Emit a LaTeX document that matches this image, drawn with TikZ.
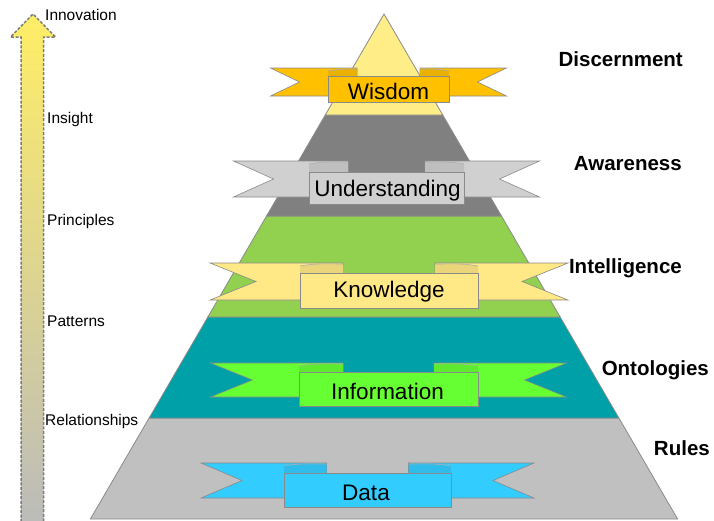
\documentclass[tikz,border=0pt]{standalone}
\usepackage{fontspec}
\setmainfont{Liberation Sans}
\usetikzlibrary{calc}

% layer fills
\definecolor{tipyellow}{HTML}{FFEE88}
\definecolor{midgray}{HTML}{808080}
\definecolor{leafgreen}{HTML}{92D050}
\definecolor{deepteal}{HTML}{00A0A8}
\definecolor{palegray}{HTML}{C0C0C0}
\definecolor{edgegray}{HTML}{8A8A8A}
% ribbon fills
\definecolor{rbgold}{HTML}{FFC000}
\definecolor{rbsilver}{HTML}{D0D0D0}
\definecolor{rbcream}{HTML}{FFE886}
\definecolor{rblime}{HTML}{66FF33}
\definecolor{rbsky}{HTML}{33CCFF}
% side arrow gradient
\definecolor{arrowtop}{HTML}{FFEE66}
\definecolor{arrowbot}{HTML}{BBBBBB}

% ribbon geometry keys
\pgfkeys{/rb/.is family,
  /rb/cx/.store in=\rbcx, /rb/cy/.store in=\rbcy,
  /rb/rw/.store in=\rbrw, /rb/rh/.store in=\rbrh,
  /rb/ow/.store in=\rbow, /rb/ty/.store in=\rbty,
  /rb/th/.store in=\rbth, /rb/nd/.store in=\rbnd,
  /rb/fw/.store in=\rbfw, /rb/tx/.store in=\rbtx,
  /rb/tb/.store in=\rbtb, /rb/col/.store in=\rbcol}

% #1 geometry keys, #2 node name, #3 label
\newcommand\ribbonbanner[3]{%
  \pgfkeys{/rb/.cd,#1}%
  \pgfmathsetmacro\rbL{\rbcx-\rbow}%
  \pgfmathsetmacro\rbR{\rbcx+\rbow}%
  \pgfmathsetmacro\rbLn{\rbcx-\rbow+\rbnd}%
  \pgfmathsetmacro\rbRn{\rbcx+\rbow-\rbnd}%
  \pgfmathsetmacro\rbLf{\rbcx-\rbfw}%
  \pgfmathsetmacro\rbRf{\rbcx+\rbfw}%
  \pgfmathsetmacro\rbT{\rbty-\rbth}%
  \pgfmathsetmacro\rbB{\rbty+\rbth}%
  \pgfmathsetmacro\rbrL{\rbcx-\rbrw}%
  \pgfmathsetmacro\rbrR{\rbcx+\rbrw}%
  \pgfmathsetmacro\rbrT{\rbcy-\rbrh}%
  \pgfmathsetmacro\rbrB{\rbcy+\rbrh}%
  \pgfmathsetmacro\rbFt{\rbT+3}%
  % swallow-tail ends
  \filldraw[ribbonedge, fill=\rbcol] (\rbL,\rbT) -- (\rbLf,\rbT) -- (\rbLf,\rbB)
     -- (\rbL,\rbB) -- (\rbLn,\rbty) -- cycle;
  \filldraw[ribbonedge, fill=\rbcol] (\rbR,\rbT) -- (\rbRf,\rbT) -- (\rbRf,\rbB)
     -- (\rbR,\rbB) -- (\rbRn,\rbty) -- cycle;
  % folds where the band turns under
  \fill[\rbcol!92!black] (\rbrL,\rbrT) -- (\rbrL,\rbFt) to[out=10,in=180] (\rbLf,\rbT+1)
     -- (\rbLf,\rbrT) -- cycle;
  \fill[\rbcol!92!black] (\rbrR,\rbrT) -- (\rbrR,\rbFt) to[out=170,in=0] (\rbRf,\rbT+1)
     -- (\rbRf,\rbrT) -- cycle;
  \draw[ribbonedge, draw=edgegray!70] (\rbrL,\rbFt) to[out=10,in=180] (\rbLf,\rbT+1);
  \draw[ribbonedge, draw=edgegray!70] (\rbrR,\rbFt) to[out=170,in=0] (\rbRf,\rbT+1);
  % front band
  \filldraw[ribbonedge, fill=\rbcol] (\rbrL,\rbrT) rectangle (\rbrR,\rbrB);
  \node[bandtext] (#2) at (\rbtx,\rbtb) {#3};
}

\tikzset{
  layer/.style={draw=edgegray, line width=0.8pt},
  ribbonedge/.style={draw=edgegray, line width=0.6pt},
  bandtext/.style={anchor=base, inner sep=0pt, font=\fontsize{22.5}{26}\selectfont},
  levellabel/.style={anchor=base east, inner sep=0pt, font=\bfseries\fontsize{20.5}{24}\selectfont},
  scalelabel/.style={anchor=base west, inner sep=0pt, font=\fontsize{15.5}{18}\selectfont},
}

\begin{document}
\begin{tikzpicture}[x=1pt, y=-1pt]
\useasboundingbox (0,0) rectangle (714,520);

% ---- side arrow ----
\shade[top color=arrowtop, bottom color=arrowbot]
  (33,14) -- (55.5,37) -- (43.5,37) -- (43.5,526) -- (21,526) -- (21,37) -- (10.5,37) -- cycle;
\draw[edgegray!90!black, line width=1.5pt, dash pattern=on 3pt off 1.6pt]
  (43.5,526) -- (43.5,37) -- (55.5,37) -- (33,14) -- (10.5,37) -- (21,37) -- (21,526);

\node[scalelabel] (innovation) at (45,20.5) {Innovation};
\node[scalelabel] (insight) at (47,123) {Insight};
\node[scalelabel] (principles) at (47,225) {Principles};
\node[scalelabel] (patterns) at (47,326.5) {Patterns};
\node[scalelabel] (relationships) at (45,425) {Relationships};

% ---- pyramid ----
\coordinate (apex) at (384,14);
\coordinate (bl) at (90.4,519);
\coordinate (br) at (677.6,519);
\coordinate (l1) at ($(apex)!0.2!(bl)$);  \coordinate (r1) at ($(apex)!0.2!(br)$);
\coordinate (l2) at ($(apex)!0.4!(bl)$);  \coordinate (r2) at ($(apex)!0.4!(br)$);
\coordinate (l3) at ($(apex)!0.6!(bl)$);  \coordinate (r3) at ($(apex)!0.6!(br)$);
\coordinate (l4) at ($(apex)!0.8!(bl)$);  \coordinate (r4) at ($(apex)!0.8!(br)$);

\filldraw[layer, fill=palegray]  (l4) -- (r4) -- (br) -- (bl) -- cycle;
\filldraw[layer, fill=deepteal]  (l3) -- (r3) -- (r4) -- (l4) -- cycle;
\filldraw[layer, fill=leafgreen] (l2) -- (r2) -- (r3) -- (l3) -- cycle;
\filldraw[layer, fill=midgray]   (l1) -- (r1) -- (r2) -- (l2) -- cycle;
\filldraw[layer, fill=tipyellow] (apex) -- (r1) -- (l1) -- cycle;

% ---- banners ----
\ribbonbanner{cx=388.5, cy=89, rw=60.5, rh=13, ow=118, ty=82, th=14, nd=29,
  fw=31.5, tx=388.5, tb=99, col=rbgold}{wisdom}{Wisdom}
\ribbonbanner{cx=386.5, cy=188, rw=77.5, rh=16, ow=153, ty=179, th=18, nd=40,
  fw=38.5, tx=387.5, tb=196, col=rbsilver}{understanding}{Understanding}
\ribbonbanner{cx=389, cy=290.5, rw=89, rh=17.5, ow=179, ty=281.5, th=18.5, nd=46,
  fw=46, tx=389, tb=297, col=rbcream}{knowledge}{Knowledge}
\ribbonbanner{cx=388.5, cy=389, rw=89.5, rh=17, ow=178, ty=380, th=17, nd=42,
  fw=45.5, tx=387.5, tb=399, col=rblime}{information}{Information}
\ribbonbanner{cx=367.5, cy=490, rw=83.5, rh=17, ow=166.5, ty=480.5, th=17.5, nd=41,
  fw=41, tx=366, tb=500, col=rbsky}{data}{Data}

% ---- level labels ----
\node[levellabel] (discernment) at (683,66.5) {Discernment};
\node[levellabel] (awareness) at (682,170) {Awareness};
\node[levellabel] (intelligence) at (682,273) {Intelligence};
\node[levellabel] (ontologies) at (709,375) {Ontologies};
\node[levellabel] (rules) at (710,455) {Rules};
\end{tikzpicture}
\end{document}
